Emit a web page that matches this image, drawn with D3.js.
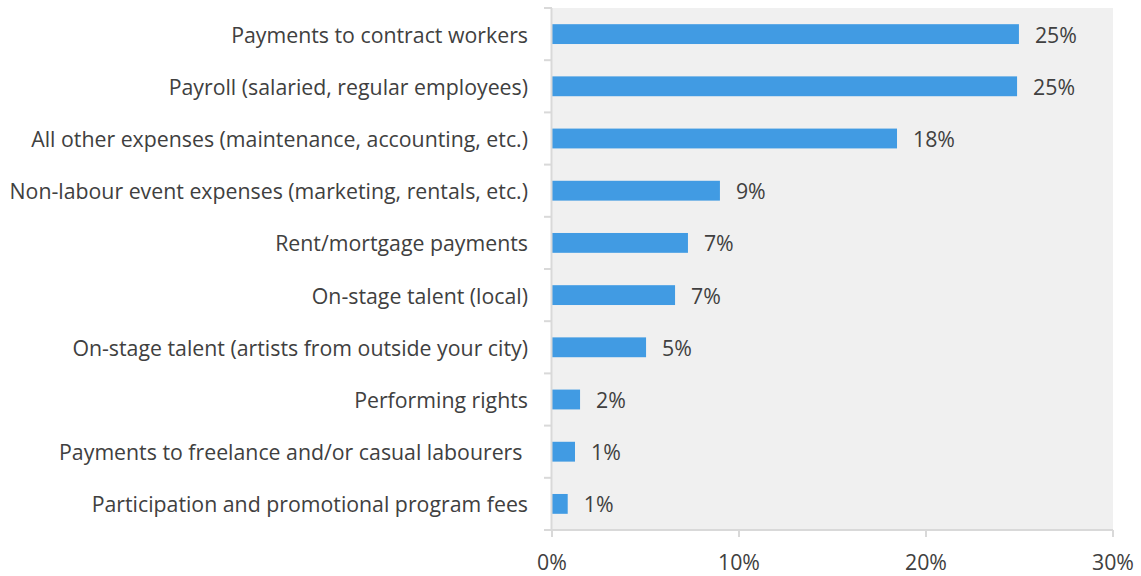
<!DOCTYPE html>
<html>
<head>
<meta charset="utf-8">
<script src="https://cdn.jsdelivr.net/npm/d3@7"></script>
<style>
  body { margin: 0; background: #fff; }
  text { font-family: "Open Sans", "Noto Sans", sans-serif; fill: #404040; white-space: pre; }
</style>
</head>
<body>
<svg width="1141" height="576"></svg>
<script>
const categories = [
  "Payments to contract workers",
  "Payroll (salaried, regular employees)",
  "All other expenses (maintenance, accounting, etc.)",
  "Non-labour event expenses (marketing, rentals, etc.)",
  "Rent/mortgage payments",
  "On-stage talent (local)",
  "On-stage talent (artists from outside your city)",
  "Performing rights",
  "Payments to freelance and/or casual labourers ",
  "Participation and promotional program fees"
];
const values = [24.97, 24.87, 18.45, 8.98, 7.27, 6.58, 5.03, 1.50, 1.23, 0.84];
const valueLabels = ["25%", "25%", "18%", "9%", "7%", "7%", "5%", "2%", "1%", "1%"];
const xTicks = [0, 10, 20, 30];

const svg = d3.select("svg");
const plotLeft = 552, plotRight = 1113, plotTop = 8, plotBottom = 530;
const fontSize = 21.3;

const x = d3.scaleLinear().domain([0, 30]).range([plotLeft, plotRight]);
const y = d3.scaleBand().domain(categories).range([plotTop, plotBottom]).paddingInner(0.62).paddingOuter(0.31);

// plot background
svg.append("rect")
  .attr("x", plotLeft).attr("y", plotTop)
  .attr("width", plotRight - plotLeft).attr("height", plotBottom - plotTop)
  .attr("fill", "#f0f0f0");

// bars
svg.append("g")
  .selectAll("rect")
  .data(values)
  .enter().append("rect")
  .attr("x", x(0))
  .attr("y", (d, i) => y(categories[i]))
  .attr("width", d => x(d) - x(0))
  .attr("height", y.bandwidth())
  .attr("fill", "#419be3");

// value labels
svg.append("g")
  .selectAll("text")
  .data(values)
  .enter().append("text")
  .attr("x", d => x(d) + 16)
  .attr("y", (d, i) => y(categories[i]) + y.bandwidth() / 2 + 1)
  .attr("dy", "0.35em")
  .attr("font-size", fontSize)
  .text((d, i) => valueLabels[i]);

// left axis
const yAxisBand = d3.scaleLinear().domain([0, categories.length]).range([plotTop, plotBottom]);
const gy = svg.append("g");
gy.append("line")
  .attr("x1", plotLeft - 0.5).attr("x2", plotLeft - 0.5)
  .attr("y1", plotTop).attr("y2", plotBottom)
  .attr("stroke", "#d9d9d9").attr("stroke-width", 2);
gy.selectAll(".tick")
  .data(d3.range(categories.length + 1))
  .enter().append("line")
  .attr("x1", plotLeft - 8).attr("x2", plotLeft)
  .attr("y1", d => yAxisBand(d)).attr("y2", d => yAxisBand(d))
  .attr("stroke", "#d9d9d9").attr("stroke-width", 2);
gy.selectAll("text")
  .data(categories)
  .enter().append("text")
  .attr("x", 528)
  .attr("y", d => y(d) + y.bandwidth() / 2 + 1)
  .attr("dy", "0.35em")
  .attr("text-anchor", "end")
  .attr("font-size", fontSize)
  .text(d => d);

// bottom axis
const gx = svg.append("g");
gx.append("line")
  .attr("x1", plotLeft - 8).attr("x2", plotRight)
  .attr("y1", plotBottom).attr("y2", plotBottom)
  .attr("stroke", "#d9d9d9").attr("stroke-width", 2);
gx.selectAll(".tick")
  .data(xTicks)
  .enter().append("line")
  .attr("x1", d => x(d)).attr("x2", d => x(d))
  .attr("y1", plotBottom).attr("y2", plotBottom + 7)
  .attr("stroke", "#d9d9d9").attr("stroke-width", 2);
gx.selectAll("text")
  .data(xTicks)
  .enter().append("text")
  .attr("x", d => x(d))
  .attr("y", 570)
  .attr("text-anchor", "middle")
  .attr("font-size", fontSize)
  .text(d => d + "%");
</script>
</body>
</html>
